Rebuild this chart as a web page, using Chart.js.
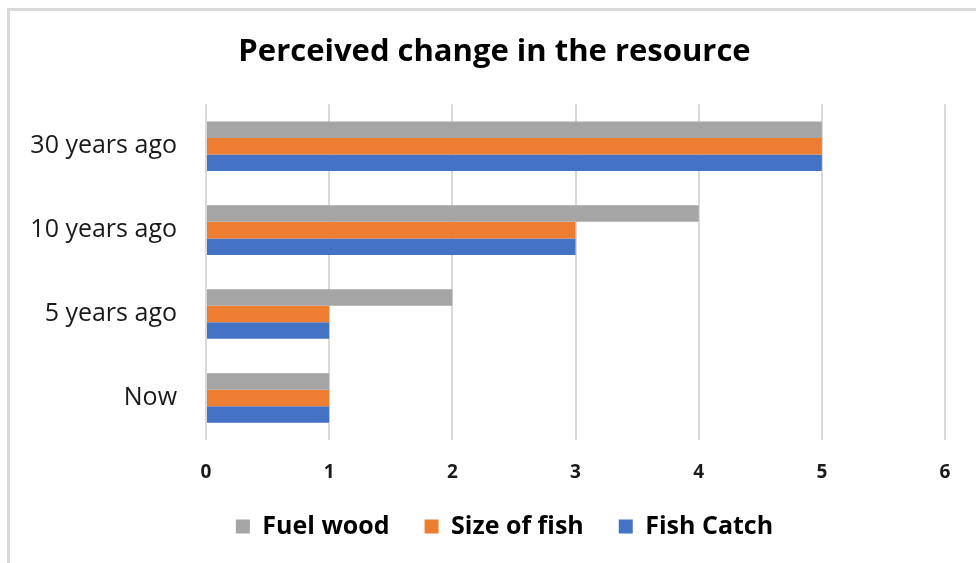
<!DOCTYPE html>
<html>
<head>
<meta charset="utf-8">
<script src="https://cdn.jsdelivr.net/npm/chart.js@4"></script>
<style>
  html, body { margin: 0; padding: 0; background: #ffffff; }
  #wrap { position: relative; width: 976px; height: 563px; }
</style>
</head>
<body>
<div id="wrap"><canvas id="resourceChart" width="976" height="563"></canvas></div>
<script>
const categories = ["30 years ago", "10 years ago", "5 years ago", "Now"];
const fuelWood = [5, 4, 2, 1];
const sizeOfFish = [5, 3, 1, 1];
const fishCatch = [5, 3, 1, 1];
const xTicks = [0, 1, 2, 3, 4, 5, 6];

const FONT = "'Open Sans', sans-serif";

// light frame on the left and top edge, like the exported picture
const framePlugin = {
  id: "frame",
  beforeDraw(chart) {
    const ctx = chart.ctx;
    ctx.save();
    ctx.fillStyle = "#ffffff";
    ctx.fillRect(0, 0, chart.width, chart.height);
    ctx.strokeStyle = "#d9d9d9";
    ctx.lineWidth = 3;
    ctx.beginPath();
    ctx.moveTo(8.5, chart.height);
    ctx.lineTo(8.5, 9.5);
    ctx.lineTo(chart.width, 9.5);
    ctx.stroke();
    ctx.restore();
  }
};

// title and legend sit a bit right of the plot centre in the original
const nudgePlugin = {
  id: "nudge",
  afterLayout(chart) {
    const move = (box, dx) => {
      if (!box) return;
      box.left += dx;
      box.right += dx;
    };
    move(chart.titleBlock, 18);
    move(chart.legend, 28);
  }
};

new Chart(
  document.getElementById("resourceChart"),
  {
    type: "bar",
    data: {
      labels: categories,
      datasets: [
        { label: "Fuel wood", data: fuelWood, backgroundColor: "#a5a5a5" },
        { label: "Size of fish", data: sizeOfFish, backgroundColor: "#ed7d31" },
        { label: "Fish Catch", data: fishCatch, backgroundColor: "#4472c4" }
      ]
    },
    plugins: [framePlugin, nudgePlugin],
    options: {
      indexAxis: "y",
      responsive: false,
      animation: false,
      categoryPercentage: 0.59,
      barPercentage: 1.0,
      layout: { padding: { left: 8, right: 31, top: 0, bottom: 14 } },
      scales: {
        x: {
          min: 0,
          max: 6,
          afterBuildTicks(scale) {
            scale.ticks = xTicks.map(v => ({ value: v }));
          },
          afterFit(scale) { scale.height = 39; },
          grid: { color: "#d9d9d9", lineWidth: 2, drawTicks: false },
          border: { display: false },
          ticks: {
            padding: 21,
            color: "#1a1a1a",
            font: { family: FONT, size: 19, weight: "bold" }
          }
        },
        y: {
          afterFit(scale) { scale.width = 198; },
          grid: { display: false, drawTicks: false },
          border: { display: false },
          ticks: {
            padding: 29,
            color: "#1a1a1a",
            font: { family: FONT, size: 25 }
          }
        }
      },
      plugins: {
        title: {
          display: true,
          text: "Perceived change in the resource",
          color: "#000000",
          font: { family: FONT, size: 31, weight: "bold" },
          padding: { top: 34, bottom: 33 }
        },
        legend: {
          position: "bottom",
          labels: {
            boxWidth: 14,
            boxHeight: 14,
            padding: 35,
            color: "#000000",
            font: { family: FONT, size: 25, weight: "bold" }
          }
        },
        tooltip: { enabled: false }
      }
    }
  }
);
</script>
</body>
</html>
